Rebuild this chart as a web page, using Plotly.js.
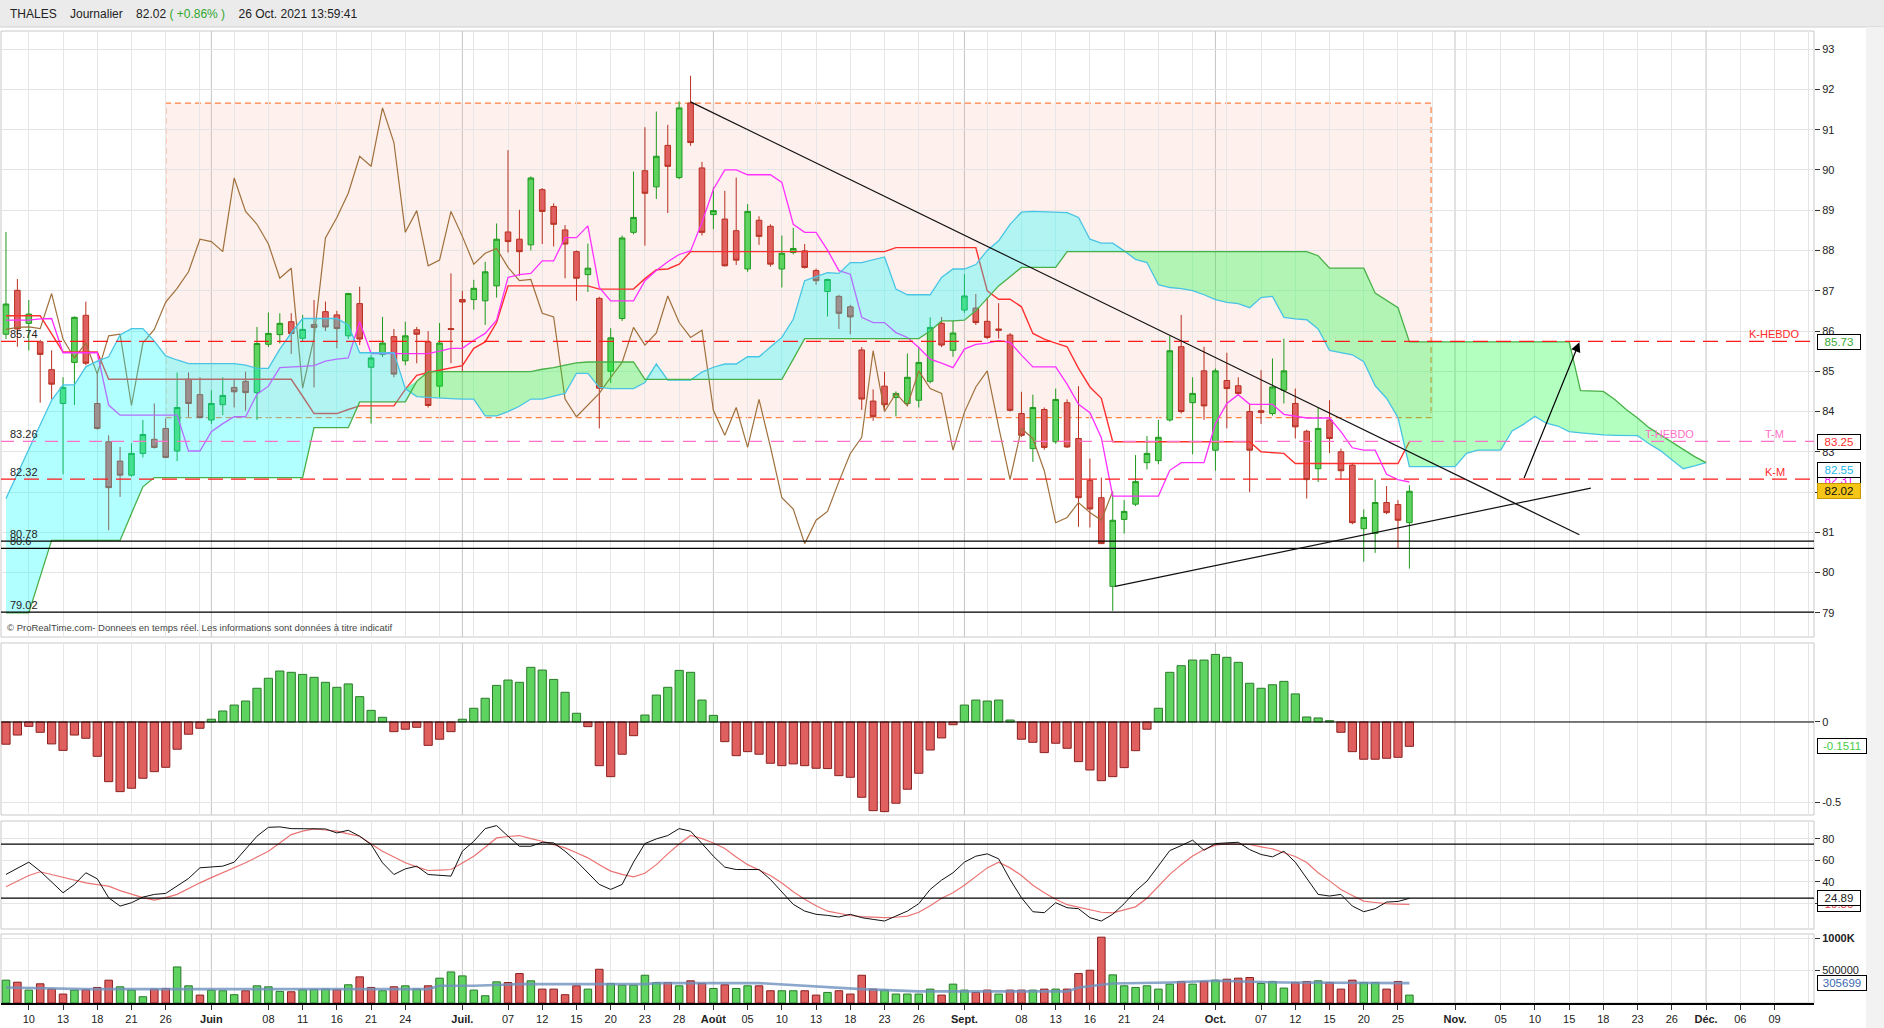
<!DOCTYPE html>
<html><head><meta charset="utf-8">
<script src="https://cdn.plot.ly/plotly-3.0.1.min.js"></script>
<style>html,body{margin:0;padding:0;background:#fff;overflow:hidden}#chart{width:1884px;height:1028px}</style>
</head><body><div id="chart"></div>
<script>
// ---------- DATA (trading-day index 0 = 10 May 2021) ----------
const firstIdx = -2;
const tickIdx = [0,3,6,9,12,16,21,24,27,30,33,38,42,45,48,51,54,57,60,63,66,69,72,75,78,82,87,90,93,96,99,104,108,111,114,117,120,125,129,132,135,138,141,144,147,150,153];
const tickText = ['10','13','18','21','26','<b>Juin</b>','08','11','16','21','24','<b>Juil.</b>','07','12','15','20','23','28','<b>Août</b>','05','10','13','18','23','26','<b>Sept.</b>','08','13','16','21','24','<b>Oct.</b>','07','12','15','20','25','<b>Nov.</b>','05','10','15','18','23','26','<b>Déc.</b>','06','09'];
const monthIdx = [16,38,60,82,104,125,147];

const openP = [85.92,87.01,86.19,85.73,85.04,84.20,85.22,86.39,84.20,83.25,82.77,82.42,82.96,83.31,83.58,83.02,84.80,84.42,83.79,84.17,84.60,84.75,84.47,85.67,85.91,86.23,85.82,86.16,86.48,86.40,85.88,86.68,85.10,85.42,85.86,85.26,86.03,85.73,84.63,86.06,86.78,86.78,86.75,87.12,88.46,88.28,88.14,89.51,89.09,88.51,87.97,87.40,86.81,85.00,86.31,88.45,89.98,89.58,90.61,89.81,91.66,90.05,88.89,88.78,88.49,87.54,88.75,88.60,87.54,87.95,87.99,87.50,86.98,86.86,86.60,85.53,84.26,84.63,84.35,84.20,84.28,84.75,86.19,85.52,86.52,86.57,86.24,86.05,85.90,83.95,83.08,84.05,83.25,84.22,83.33,82.29,81.86,79.66,81.32,81.70,82.73,82.78,83.79,85.61,84.22,85.01,83.04,84.77,84.64,84.00,84.02,83.95,84.53,84.20,83.51,82.58,83.79,83.00,82.67,81.09,80.97,81.74,81.69,81.24];
const highP = [88.46,87.29,86.77,85.78,85.52,84.85,86.36,86.73,84.99,83.41,83.12,83.21,83.79,84.20,83.83,84.97,84.97,84.85,84.53,84.85,84.78,84.99,86.10,86.46,86.44,86.44,86.40,86.77,86.73,86.50,86.95,87.10,85.40,86.35,86.05,86.23,86.10,86.00,86.20,87.43,87.00,87.27,87.72,88.67,90.49,89.01,89.84,89.55,89.17,88.63,88.00,88.17,86.85,86.07,88.37,89.96,91.06,91.45,91.12,91.70,92.34,90.20,89.57,89.48,89.81,89.15,88.85,88.65,88.37,88.56,88.16,87.55,87.30,86.90,86.65,85.60,84.55,84.99,84.50,85.44,85.61,86.34,86.35,86.25,87.41,86.92,86.83,86.69,85.95,84.49,84.42,84.10,84.57,84.30,84.63,82.83,82.36,82.00,81.80,82.92,83.39,83.79,85.88,86.40,84.85,85.61,85.07,85.46,84.85,84.20,85.03,85.32,85.81,84.57,83.55,84.10,84.28,83.08,82.73,81.57,82.31,82.15,81.80,82.17];
const lowP = [85.80,85.61,85.52,84.22,84.31,82.44,84.16,85.15,83.55,81.05,81.88,82.38,82.86,83.08,82.84,82.77,83.87,83.83,83.69,83.91,84.10,84.02,83.79,85.60,85.69,85.43,85.75,84.60,86.00,85.57,85.80,85.65,83.70,85.35,84.85,85.15,85.20,84.10,84.35,85.20,84.98,86.53,86.15,86.83,87.95,87.37,88.00,88.16,88.10,87.31,86.75,86.97,83.58,84.71,86.25,88.40,88.12,89.28,88.93,89.77,90.60,88.37,88.53,87.60,87.64,87.47,88.14,87.60,87.08,87.90,87.55,87.15,86.36,86.05,85.92,84.04,83.77,84.04,83.88,84.15,84.10,84.70,85.60,85.36,86.45,86.15,85.80,85.81,84.00,83.37,82.75,83.05,83.20,83.10,81.14,81.12,80.71,79.05,80.97,81.65,82.56,82.69,83.75,83.95,82.94,83.79,82.53,83.58,84.40,82.00,83.69,83.90,84.20,83.33,81.84,82.25,82.97,82.30,81.20,80.27,80.49,81.45,80.60,80.10];
const closeP = [86.67,86.05,86.42,85.42,84.68,84.60,86.34,85.20,83.58,82.11,82.42,82.96,83.43,83.11,82.86,84.10,84.20,83.85,84.20,84.40,84.49,84.47,85.69,85.94,86.19,85.94,86.04,86.09,86.10,86.06,86.93,85.80,85.33,85.70,84.93,85.88,85.92,84.15,85.70,86.04,86.72,87.06,87.47,88.28,88.22,87.97,89.80,88.97,88.65,88.16,87.31,87.56,84.58,85.83,88.31,88.82,89.42,90.34,90.09,91.54,90.68,88.45,88.99,87.62,87.76,88.97,88.35,87.66,87.93,88.05,87.58,87.25,87.28,86.44,86.35,84.31,83.87,84.17,84.45,84.85,85.22,86.09,85.65,85.95,86.87,86.21,85.84,86.02,84.03,83.41,84.10,83.11,84.30,83.12,81.86,81.58,80.72,81.30,81.52,82.26,82.96,83.36,85.51,84.00,84.45,84.14,85.01,84.57,84.45,83.04,83.98,84.61,85.01,83.62,82.31,83.58,83.33,82.53,81.24,81.37,81.74,81.49,81.30,82.02];

const tenkan = [86.27,86.27,86.27,86.30,86.31,85.46,85.46,85.46,85.46,84.16,83.91,83.91,83.91,83.91,83.91,83.91,83.02,83.02,83.50,83.70,83.87,83.87,84.43,84.63,85.09,85.10,85.12,85.14,85.25,85.30,85.33,86.23,85.44,85.44,85.44,85.44,85.44,85.44,85.50,85.57,85.57,85.77,85.94,86.27,87.33,87.40,87.43,87.74,87.74,88.32,88.32,88.61,87.08,86.75,86.75,86.75,87.25,87.50,87.72,87.90,87.99,88.70,89.52,90.00,90.00,89.88,89.88,89.88,89.69,88.65,88.45,88.45,88.01,87.50,87.41,86.34,86.21,86.21,85.96,85.84,85.59,85.30,85.20,85.09,85.55,85.67,85.70,85.76,85.72,85.40,85.11,85.11,85.11,84.68,84.18,83.97,83.35,81.90,81.90,81.90,81.90,81.90,82.54,82.73,82.73,82.73,83.70,84.20,84.42,84.18,84.18,84.18,83.93,83.88,83.84,83.84,83.84,83.50,83.10,83.04,83.04,82.44,82.31,82.25];
const kijun = [86.38,86.38,86.38,86.38,85.93,85.48,85.48,85.48,85.48,84.80,84.80,84.80,84.80,84.80,84.80,84.80,84.80,84.80,84.80,84.80,84.80,84.80,84.80,84.80,84.80,84.80,84.38,83.95,83.95,83.95,84.05,84.14,84.14,84.14,84.14,84.55,84.90,84.97,85.03,85.08,85.14,85.57,85.73,86.21,87.12,87.12,87.12,87.12,87.12,87.12,87.12,87.12,87.04,87.04,87.04,87.04,87.30,87.52,87.54,87.66,87.97,87.97,87.97,87.97,87.97,87.97,87.97,87.97,87.97,87.97,87.97,87.97,87.97,87.97,87.97,87.97,87.97,87.97,88.07,88.07,88.07,88.07,88.07,88.07,88.07,88.07,87.00,86.79,86.79,86.60,85.94,85.80,85.70,85.61,85.07,84.61,84.33,83.25,83.25,83.25,83.25,83.25,83.25,83.25,83.25,83.25,83.25,83.25,83.25,83.25,83.00,82.98,82.96,82.71,82.71,82.71,82.71,82.71,82.71,82.71,82.71,82.71,82.71,83.25];
const chikou = [86.04,86.09,86.10,86.06,86.93,85.80,85.33,85.70,84.93,85.88,85.92,84.15,85.70,86.04,86.72,87.06,87.47,88.28,88.22,87.97,89.80,88.97,88.65,88.16,87.31,87.56,84.58,85.83,88.31,88.82,89.42,90.34,90.09,91.54,90.68,88.45,88.99,87.62,87.76,88.97,88.35,87.66,87.93,88.05,87.58,87.25,87.28,86.44,86.35,84.31,83.87,84.17,84.45,84.85,85.22,86.09,85.65,85.95,86.87,86.21,85.84,86.02,84.03,83.41,84.10,83.11,84.30,83.12,81.86,81.58,80.72,81.30,81.52,82.26,82.96,83.36,85.51,84.00,84.45,84.14,85.01,84.57,84.45,83.04,83.98,84.61,85.01,83.62,82.31,83.58,83.33,82.53,81.24,81.37,81.74,81.49,81.30,82.02];
const senkouA = [81.84,82.45,83.06,83.67,84.28,84.66,84.66,85.11,85.25,85.36,85.90,86.06,86.06,85.75,85.38,85.28,85.19,85.19,85.19,85.19,85.19,85.15,85.07,85.07,85.55,85.95,86.31,86.31,86.31,86.31,86.15,85.46,85.46,85.46,85.46,84.57,84.37,84.35,84.33,84.32,84.31,84.31,83.89,83.89,84.00,84.13,84.31,84.31,84.38,84.45,84.95,84.95,84.60,84.57,84.57,84.57,84.72,85.18,84.78,84.78,84.78,84.98,85.10,85.18,85.18,85.36,85.36,85.60,85.84,86.29,87.25,87.35,87.45,87.43,87.70,87.70,87.77,87.84,87.04,86.90,86.90,86.90,87.33,87.54,87.54,87.65,88.00,88.24,88.65,88.95,88.97,88.96,88.95,88.94,88.82,88.28,88.18,88.18,87.99,87.78,87.70,87.15,87.08,87.05,87.00,86.90,86.78,86.71,86.68,86.58,86.83,86.86,86.34,86.30,86.28,86.05,85.52,85.46,85.41,85.24,84.64,84.33,83.85,82.63,82.63,82.63,82.63,82.63,82.96,83.04,83.04,83.04,83.52,83.68,83.88,83.71,83.64,83.50,83.47,83.44,83.42,83.41,83.40,83.40,83.20,83.03,82.80,82.58,82.65,82.73];
const senkouB = [79.00,79.00,79.00,79.90,80.80,80.80,80.80,80.80,80.80,80.80,80.80,81.47,82.13,82.36,82.36,82.36,82.36,82.36,82.36,82.36,82.36,82.36,82.36,82.36,82.36,82.36,82.36,83.60,83.60,83.60,83.60,84.24,84.24,84.24,84.24,84.24,84.75,84.99,84.99,84.99,84.99,84.99,84.99,84.99,84.99,84.99,84.99,85.05,85.09,85.15,85.21,85.23,85.23,85.23,85.23,85.23,84.80,84.80,84.80,84.80,84.80,84.80,84.80,84.80,84.80,84.80,84.80,84.80,84.80,85.30,85.81,85.81,85.81,85.81,85.81,85.81,85.81,85.81,85.81,85.81,85.81,86.00,86.25,86.25,86.27,86.50,86.80,87.12,87.35,87.58,87.58,87.58,87.58,87.97,87.97,87.97,87.97,87.97,87.97,87.97,87.97,87.97,87.97,87.97,87.97,87.97,87.97,87.97,87.97,87.97,87.97,87.97,87.97,87.97,87.97,87.87,87.56,87.56,87.56,87.56,86.94,86.76,86.58,85.73,85.73,85.73,85.73,85.73,85.73,85.73,85.73,85.73,85.73,85.73,85.73,85.73,85.73,85.73,84.52,84.51,84.50,84.30,84.05,83.84,83.60,83.42,83.24,83.05,82.88,82.73];

const macdHist = [-0.138,-0.081,-0.027,-0.064,-0.136,-0.176,-0.081,-0.101,-0.213,-0.370,-0.432,-0.411,-0.349,-0.308,-0.281,-0.169,-0.076,-0.039,0.017,0.068,0.105,0.130,0.209,0.271,0.316,0.308,0.295,0.277,0.246,0.215,0.236,0.157,0.072,0.029,-0.060,-0.045,-0.033,-0.145,-0.107,-0.060,0.017,0.085,0.147,0.227,0.260,0.246,0.339,0.322,0.264,0.184,0.054,-0.029,-0.271,-0.339,-0.200,-0.085,0.043,0.167,0.215,0.320,0.308,0.136,0.041,-0.122,-0.209,-0.184,-0.200,-0.256,-0.271,-0.260,-0.271,-0.287,-0.289,-0.333,-0.343,-0.467,-0.550,-0.556,-0.504,-0.417,-0.318,-0.174,-0.099,-0.017,0.105,0.136,0.130,0.136,0.012,-0.107,-0.126,-0.190,-0.132,-0.163,-0.246,-0.298,-0.364,-0.339,-0.283,-0.178,-0.045,0.085,0.308,0.349,0.384,0.384,0.419,0.401,0.370,0.240,0.209,0.231,0.252,0.174,0.031,0.025,0.008,-0.064,-0.184,-0.231,-0.231,-0.225,-0.219,-0.1511];
const stochK = [47,53,58.3,50,40,30,37.7,48.5,42.9,25.4,17.7,20.8,26,28.5,29.4,36,43.2,53.1,54,54.6,58.3,69.9,82.3,90.5,90.9,89.3,89,89,89,85.3,87.8,82.3,74.6,57.7,46.9,52.1,54.6,46.9,46,45.4,68.4,77.6,89.3,92.1,82.3,73,73,76.7,76.1,68.4,59.2,48.5,37.7,33.1,37.7,58.3,75.5,79.8,82.9,89.3,86.9,75.5,63.8,53.7,51.5,51.5,51.5,42.3,30.6,19.3,13.1,10.1,9.1,7.6,10.1,7,5.4,3.9,8.5,13.1,19.9,33.1,41.7,48.5,58.3,63.8,66,61.4,42.3,25.4,12.5,11.6,20.8,16.2,15.3,7,3.9,10.1,19.9,31.6,40.8,54.6,69,73.6,78.6,69.3,75.5,76.1,76.7,69.9,65.4,63.2,68.4,58.3,43.9,28.5,27,28.5,17.7,12.5,15.3,21.4,22,24.89];
const stochD = [35.5,41,46,49.4,47,43.9,41.5,39.2,37.5,36.2,32,28.5,25.5,23.3,25.5,28.5,34,39.2,44,48.5,53,57.7,63,68.4,76,83.8,87,89,88,86.9,84.5,82.3,75,68.4,63,57.7,54,50.6,51,51.5,57.5,63.8,72,80.7,82,82.9,80,77.6,74.5,71.5,67,62.3,56,50,47,44.8,48,56,66,75,83,80,76,71,63,56,51,46,39,31,24,18,13,11,9,8,7.3,7,7.4,8.5,12,18,25,30,37,45,53,58.3,53,46,37,30,24,19,16.5,14,12,11.5,14,17,25,36,47,56,64,70,74,75.5,75,74.6,72.5,70.6,67,63.5,58,48.5,41,33.1,27.5,22.3,21,19.9,19.5,19.3];
const volume = [352000,321000,199000,296000,214000,138000,199000,204000,240000,352000,250000,199000,97000,214000,224000,556000,265000,122000,199000,189000,128000,189000,265000,250000,179000,173000,204000,209000,214000,204000,281000,403000,240000,189000,250000,265000,214000,265000,383000,479000,418000,199000,112000,326000,316000,454000,342000,214000,214000,128000,265000,214000,520000,301000,275000,275000,428000,316000,316000,265000,342000,301000,224000,281000,224000,265000,265000,189000,189000,189000,189000,122000,163000,189000,138000,428000,214000,199000,138000,138000,138000,214000,122000,291000,199000,163000,199000,138000,199000,199000,199000,214000,214000,214000,454000,505000,1015000,434000,265000,240000,265000,214000,291000,332000,291000,332000,352000,367000,383000,393000,301000,332000,230000,316000,332000,342000,316000,214000,352000,316000,316000,214000,332000,122000];
const volMAIdx = [-2,5,35,36,39,43,54,55,64,68,73,78,91,92,95,100,104,110,121];
const volMA = [240000,214000,214000,265000,265000,291000,291000,306000,306000,265000,214000,179000,179000,240000,301000,316000,342000,316000,306000];

// drawn levels / user objects
const levelKHebdo = 85.74, levelTM = 83.26, levelKM = 82.32;
const supportLevels = [80.78, 80.6, 79.02];
const zoneBox = {x0: 12, x1: 122.9, y0: 83.85, y1: 91.66};
const downTrend = {x0: 58, y0: 91.69, x1: 135.9, y1: 80.94};
const upTrend = {x0: 95.2, y0: 79.66, x1: 136.9, y1: 82.10};
const arrowLine = {x0: 131, y0: 82.31, x1: 135.9, y1: 85.72};

// ---------- BUILD ----------
const FONT = 'Liberation Sans, Arial, sans-serif';
const xIdx = openP.map((_, i) => firstIdx + i);
const chikouX = chikou.map((_, i) => firstIdx + i);
const cloudX = senkouA.map((_, i) => firstIdx + i);
const cloudTop = senkouA.map((a, i) => Math.max(a, senkouB[i]));
const GREEN = '#5fd35f', GREEN_L = '#1e9a1e', RED = '#e06060', RED_L = '#b83020';

const traces = [
  {type:'candlestick', x:xIdx, open:openP, high:highP, low:lowP, close:closeP, xaxis:'x', yaxis:'y',
   increasing:{line:{color:GREEN_L, width:1}, fillcolor:GREEN},
   decreasing:{line:{color:RED_L, width:1}, fillcolor:RED},
   whiskerwidth:0, hoverinfo:'skip'},
  {type:'scatter', mode:'lines', x:chikouX, y:chikou, line:{color:'#a0703c', width:1.2}, hoverinfo:'skip'},
  {type:'scatter', mode:'lines', x:xIdx, y:kijun, line:{color:'#ff3030', width:1.4}, hoverinfo:'skip'},
  {type:'scatter', mode:'lines', x:xIdx, y:tenkan, line:{color:'#ff30ff', width:1.3}, hoverinfo:'skip'},
  {type:'scatter', mode:'lines', x:cloudX, y:senkouB, line:{width:0}, hoverinfo:'skip'},
  {type:'scatter', mode:'lines', x:cloudX, y:cloudTop, line:{width:0}, fill:'tonexty', fillcolor:'rgba(0,255,255,0.30)', hoverinfo:'skip'},
  {type:'scatter', mode:'lines', x:cloudX, y:senkouA, line:{width:0}, hoverinfo:'skip'},
  {type:'scatter', mode:'lines', x:cloudX, y:cloudTop, line:{width:0}, fill:'tonexty', fillcolor:'rgba(0,255,45,0.30)', hoverinfo:'skip'},
  {type:'scatter', mode:'lines', x:cloudX, y:senkouA, line:{color:'#48c4e4', width:1.3}, hoverinfo:'skip'},
  {type:'scatter', mode:'lines', x:cloudX, y:senkouB, line:{color:'#48b048', width:1.3}, hoverinfo:'skip'},
  {type:'bar', x:xIdx, y:macdHist, xaxis:'x', yaxis:'y2', width:0.72,
   marker:{color:macdHist.map(v => v >= 0 ? GREEN : RED), line:{color:macdHist.map(v => v >= 0 ? '#2a7a2a' : '#8a2020'), width:1}}, hoverinfo:'skip'},
  {type:'scatter', mode:'lines', x:xIdx, y:stochD, xaxis:'x', yaxis:'y3', line:{color:'rgba(232,90,90,0.85)', width:1.2}, hoverinfo:'skip'},
  {type:'scatter', mode:'lines', x:xIdx, y:stochK, xaxis:'x', yaxis:'y3', line:{color:'#111', width:1}, hoverinfo:'skip'},
  {type:'bar', x:xIdx, y:volume, xaxis:'x', yaxis:'y4', width:0.66,
   marker:{color:closeP.map((c, i) => (i === 0 || c >= closeP[i-1]) ? GREEN : RED),
           line:{color:closeP.map((c, i) => (i === 0 || c >= closeP[i-1]) ? '#2a7a2a' : '#8a2020'), width:1}}, hoverinfo:'skip'},
  {type:'scatter', mode:'lines', x:volMAIdx, y:volMA, xaxis:'x', yaxis:'y4', line:{color:'rgba(110,145,190,0.8)', width:2.6}, hoverinfo:'skip'}
];
traces.forEach(t => { t.showlegend = false; });

// grid positions (every 3 sessions), excluding month lines
const gridIdx = [];
for (let g = 0; g <= 156; g += 3) if (monthIdx.indexOf(g) < 0) gridIdx.push(g);

const doms = {y:[0.3765,1], y2:[0.1934,0.3704], y3:[0.0761,0.1872], y4:[0,0.0710]};
const shapes = [];
const PY = v => (1003 - v) / 972;      // pixel row -> paper y
const PX = v => (v - 1) / 1813;        // pixel col -> paper x
shapes.push({type:'rect', xref:'paper', yref:'paper', x0:-0.01, x1:1.05, y0:PY(27), y1:1.06, fillcolor:'#ebebeb', line:{color:'#d0d0d0', width:1}, layer:'below'});
shapes.push({type:'rect', xref:'paper', yref:'paper', x0:PX(1866), x1:1.05, y0:-0.05, y1:PY(27), fillcolor:'#f2f2f2', line:{width:0}, layer:'below'});
Object.keys(doms).forEach(ax => {
  shapes.push({type:'rect', xref:'paper', yref:ax + ' domain', x0:0, x1:1, y0:0, y1:1, fillcolor:'rgba(0,0,0,0)', line:{color:'#c8c8c8', width:1}, layer:'below'});
  monthIdx.forEach(m => shapes.push({type:'line', xref:'x', yref:ax + ' domain', x0:m, x1:m, y0:0, y1:1, line:{color:'#c4c4c4', width:1}, layer:'below'}));
});
shapes.push({type:'rect', xref:'x', yref:'y', x0:zoneBox.x0, x1:zoneBox.x1, y0:zoneBox.y0, y1:zoneBox.y1,
  fillcolor:'rgba(250,180,160,0.2)', line:{color:'#ff8040', width:1.2, dash:'6px,4px'}, layer:'below'});
const hline = (y, color, dash, w) => ({type:'line', xref:'paper', yref:'y', x0:0, x1:1, y0:y, y1:y, line:{color:color, width:w, dash:dash}});
shapes.push(hline(levelKHebdo, '#ff1a1a', '15px,8px', 1.3));
shapes.push(hline(levelTM, '#ff70c8', '13px,9px', 1.1));
shapes.push(hline(levelKM, '#ff1a1a', '15px,8px', 1.3));
supportLevels.forEach(v => shapes.push(hline(v, '#000', 'solid', 1.2)));
[downTrend, upTrend].forEach(t => shapes.push({type:'line', xref:'x', yref:'y', x0:t.x0, y0:t.y0, x1:t.x1, y1:t.y1, line:{color:'#111', width:1.2}}));
shapes.push({type:'line', xref:'paper', yref:'y2', x0:0, x1:1, y0:0, y1:0, line:{color:'#000', width:1.2}});
shapes.push({type:'line', xref:'paper', yref:'y3', x0:0, x1:1, y0:75, y1:75, line:{color:'#000', width:1.2}});
shapes.push({type:'line', xref:'paper', yref:'y3', x0:0, x1:1, y0:25, y1:25, line:{color:'#000', width:1.2}});

const ann = [];
ann.push({xref:'paper', yref:'paper', x:PX(8), y:PY(14), xanchor:'left', yanchor:'middle', showarrow:false,
  text:'THALES&nbsp;&nbsp;&nbsp;&nbsp;Journalier&nbsp;&nbsp;&nbsp;&nbsp;82.02 <span style="color:#2fa82f">( +0.86% )</span>&nbsp;&nbsp;&nbsp;&nbsp;26 Oct. 2021 13:59:41',
  font:{family:FONT, size:12, color:'#222'}});
ann.push({xref:'paper', yref:'paper', x:PX(5), y:PY(627), xanchor:'left', yanchor:'middle', showarrow:false,
  text:'© ProRealTime.com- Donnees en temps réel. Les informations sont données à titre indicatif', font:{family:FONT, size:9.5, color:'#444'}});
[[levelKHebdo,'85.74'],[levelTM,'83.26'],[levelKM,'82.32'],[80.78,'80.78'],[80.6,'80.6'],[79.02,'79.02']].forEach(p =>
  ann.push({xref:'x', yref:'y', x:-1.75, y:p[0], xanchor:'left', yanchor:'bottom', showarrow:false, text:p[1], font:{family:FONT, size:11, color:'#222'}, borderpad:0}));
[[153, levelKHebdo, 'K-HEBDO', '#ff2a2a'], [153, levelTM, 'T-M', '#ff70c8'], [153, levelKM, 'K-M', '#ff2a2a'], [143.8, levelTM, 'T-HEBDO', '#ff70c8']].forEach(p =>
  ann.push({xref:'x', yref:'y', x:p[0], y:p[1], xanchor:'center', yanchor:'bottom', showarrow:false, text:p[2], font:{family:FONT, size:11, color:p[3]}, borderpad:0}));
ann.push({xref:'x', yref:'y', x:arrowLine.x1, y:arrowLine.y1, axref:'x', ayref:'y', ax:arrowLine.x0, ay:arrowLine.y0, text:'', showarrow:true,
  arrowhead:2, arrowsize:1.6, arrowwidth:1.2, arrowcolor:'#000'});
const box = (yref, y, txt, color, w, bg, bc) => ({xref:'paper', yref:yref, x:1, xanchor:'left', xshift:3, y:y, yanchor:'middle', showarrow:false,
  text:txt, width:w, align:'center', font:{family:FONT, size:11.5, color:color}, bgcolor:bg || '#fff', bordercolor:bc || '#000', borderwidth:1, borderpad:1});
// stacked value boxes (the lower ones are partly covered, as in the source)
ann.push(box('y', 85.73, '85.73', '#3aa83a', 40));
ann.push(box('y', 83.25, '83.25', '#ff3030', 40));
ann.push(box('y', 82.31, '82.31', '#ff00ff', 40));
ann.push(box('y', 82.55, '82.55', '#22b8e8', 40));
ann.push(box('y', 82.02, '82.02', '#111', 40, '#f5c518', '#c89800'));
ann.push(box('y2', -0.1511, '-0.1511', '#44cc44', 46));
ann.push(box('y3', 19.3, '19.30', '#e04040', 40));
ann.push(box('y3', 24.89, '24.89', '#222', 40));
ann.push(box('y4', 305699, '305699', '#3a68b0', 46));

const tickFont = {family:FONT, size:11, color:'#222'};
const yCommon = {side:'right', anchor:'x', ticks:'outside', ticklen:5, tickcolor:'#333', tickfont:tickFont, showgrid:true, gridcolor:'#e4e4e4', zeroline:false, showline:false, fixedrange:true};
const layout = {
  width:1884, height:1028, margin:{l:1, r:70, t:31, b:25},
  paper_bgcolor:'#fff', plot_bgcolor:'rgba(0,0,0,0)', showlegend:false, hovermode:false, dragmode:false,
  font:{family:FONT},
  xaxis:{range:[-2.436, 156.46], anchor:'y4', tickmode:'array', tickvals:tickIdx, ticktext:tickText, ticks:'outside', ticklen:5, tickcolor:'#333',
    tickfont:tickFont, showgrid:false, zeroline:false, showline:true, linecolor:'#000', linewidth:1.5, fixedrange:true,
    rangeslider:{visible:false},
    minor:{tickmode:'array', tickvals:gridIdx, showgrid:true, gridcolor:'#e6e6e6', gridwidth:1, ticks:''}},
  yaxis:Object.assign({}, yCommon, {domain:doms.y, range:[78.4, 93.45], tickmode:'array', tickvals:[79,80,81,82,83,84,85,86,87,88,89,90,91,92,93], ticktext:['79','80','81','','83','84','85','86','87','88','89','90','91','92','93']}),
  yaxis2:Object.assign({}, yCommon, {domain:doms.y2, range:[-0.577, 0.49], tickmode:'array', tickvals:[-0.5, 0], ticktext:['-0.5','0']}),
  yaxis3:Object.assign({}, yCommon, {domain:doms.y3, range:[-3.5, 96.3], tickmode:'array', tickvals:[20,40,60,80], ticktext:['','40','60','80']}),
  yaxis4:Object.assign({}, yCommon, {domain:doms.y4, range:[0, 1064000], tickmode:'array', tickvals:[500000,1000000], ticktext:['500000','<b>1000K</b>']}),
  shapes:shapes, annotations:ann
};
Plotly.newPlot('chart', traces, layout, {staticPlot:true, displayModeBar:false});
</script></body></html>
